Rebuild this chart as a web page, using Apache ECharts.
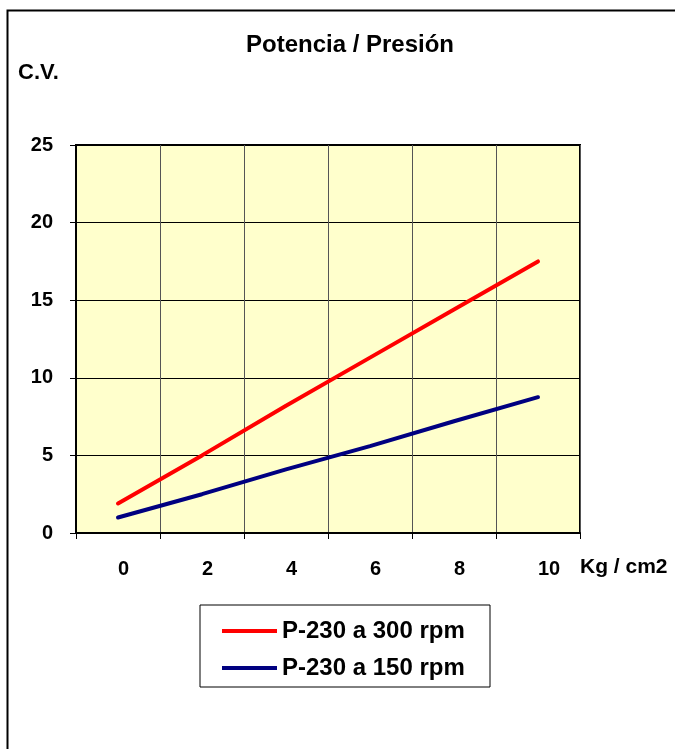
<!DOCTYPE html>
<html>
<head>
<meta charset="utf-8">
<script src="https://cdn.jsdelivr.net/npm/echarts@6/dist/echarts.min.js"></script>
<style>
html,body{margin:0;padding:0;background:#fff;}
#chart{width:675px;height:749px;}
</style>
</head>
<body>
<div id="chart"></div>
<script>
const categories = ['0', '2', '4', '6', '8', '10'];
const seriesNames = ['P-230 a 300 rpm', 'P-230 a 150 rpm'];
const rpm300 = [1.9, 5.0, 8.2, 11.3, 14.4, 17.5];
const rpm150 = [1.0, 2.5, 4.1, 5.6, 7.2, 8.75];
const yTicks = { min: 0, max: 25, interval: 5 };
const titleText = 'Potencia / Presión';
const yUnit = 'C.V.';
const xUnit = 'Kg / cm2';

const FONT = '"Liberation Sans", Arial, sans-serif';
const chart = echarts.init(document.getElementById('chart'));
chart.setOption({
  animation: false,
  backgroundColor: '#fff',
  grid: {
    left: 76, top: 145, width: 504, height: 388,
    show: true, backgroundColor: '#FFFFCC', borderColor: '#000', borderWidth: 2
  },
  xAxis: {
    type: 'category',
    data: categories,
    boundaryGap: true,
    axisLine: { lineStyle: { color: '#000', width: 2 } },
    axisTick: { show: true, interval: 0, length: 6, lineStyle: { color: '#000', width: 1 } },
    axisLabel: { interval: 0, align: 'left', margin: 26, color: '#000', fontSize: 20, fontWeight: 'bold', fontFamily: FONT },
    splitLine: { show: true, interval: 0, lineStyle: { color: '#555', width: 1 } }
  },
  yAxis: {
    type: 'value',
    min: yTicks.min, max: yTicks.max, interval: yTicks.interval,
    axisLine: { show: true, lineStyle: { color: '#000', width: 2 } },
    axisTick: { show: true, length: 6, lineStyle: { color: '#000', width: 1 } },
    axisLabel: { margin: 23, color: '#000', fontSize: 20, fontWeight: 'bold', fontFamily: FONT },
    splitLine: { show: true, lineStyle: { color: '#000', width: 1 } }
  },
  legend: {
    orient: 'vertical',
    left: 200, top: 605,
    padding: [14, 20, 8, 22],
    itemWidth: 55, itemHeight: 4, itemGap: 13,
    icon: 'rect',
    data: seriesNames,
    textStyle: { color: '#000', fontSize: 24, lineHeight: 24, fontWeight: 'bold', fontFamily: FONT }
  },
  graphic: [
    { type: 'rect', left: 5, top: 8, shape: { x: 0, y: 0, width: 700, height: 800 }, style: { fill: 'none', stroke: '#000', lineWidth: 2 }, silent: true },
    { type: 'rect', shape: { x: 200, y: 605, width: 290, height: 82 }, style: { fill: 'none', stroke: '#000', lineWidth: 1 }, silent: true, z: 10 },
    { type: 'text', x: 350, y: 45, style: { text: titleText, textAlign: 'center', textVerticalAlign: 'middle', fill: '#000', font: 'bold 24px ' + FONT } },
    { type: 'text', x: 18, y: 73, style: { text: yUnit, textAlign: 'left', textVerticalAlign: 'middle', fill: '#000', font: 'bold 22px ' + FONT } },
    { type: 'text', x: 580, y: 567, style: { text: xUnit, textAlign: 'left', textVerticalAlign: 'middle', fill: '#000', font: 'bold 21px ' + FONT } }
  ],
  series: [
    { name: seriesNames[0], type: 'line', data: rpm300, showSymbol: false, symbol: 'none', color: '#FF0000', lineStyle: { color: '#FF0000', width: 4, cap: 'round' } },
    { name: seriesNames[1], type: 'line', data: rpm150, showSymbol: false, symbol: 'none', color: '#000080', lineStyle: { color: '#000080', width: 4, cap: 'round' } }
  ]
});
</script>
</body>
</html>
